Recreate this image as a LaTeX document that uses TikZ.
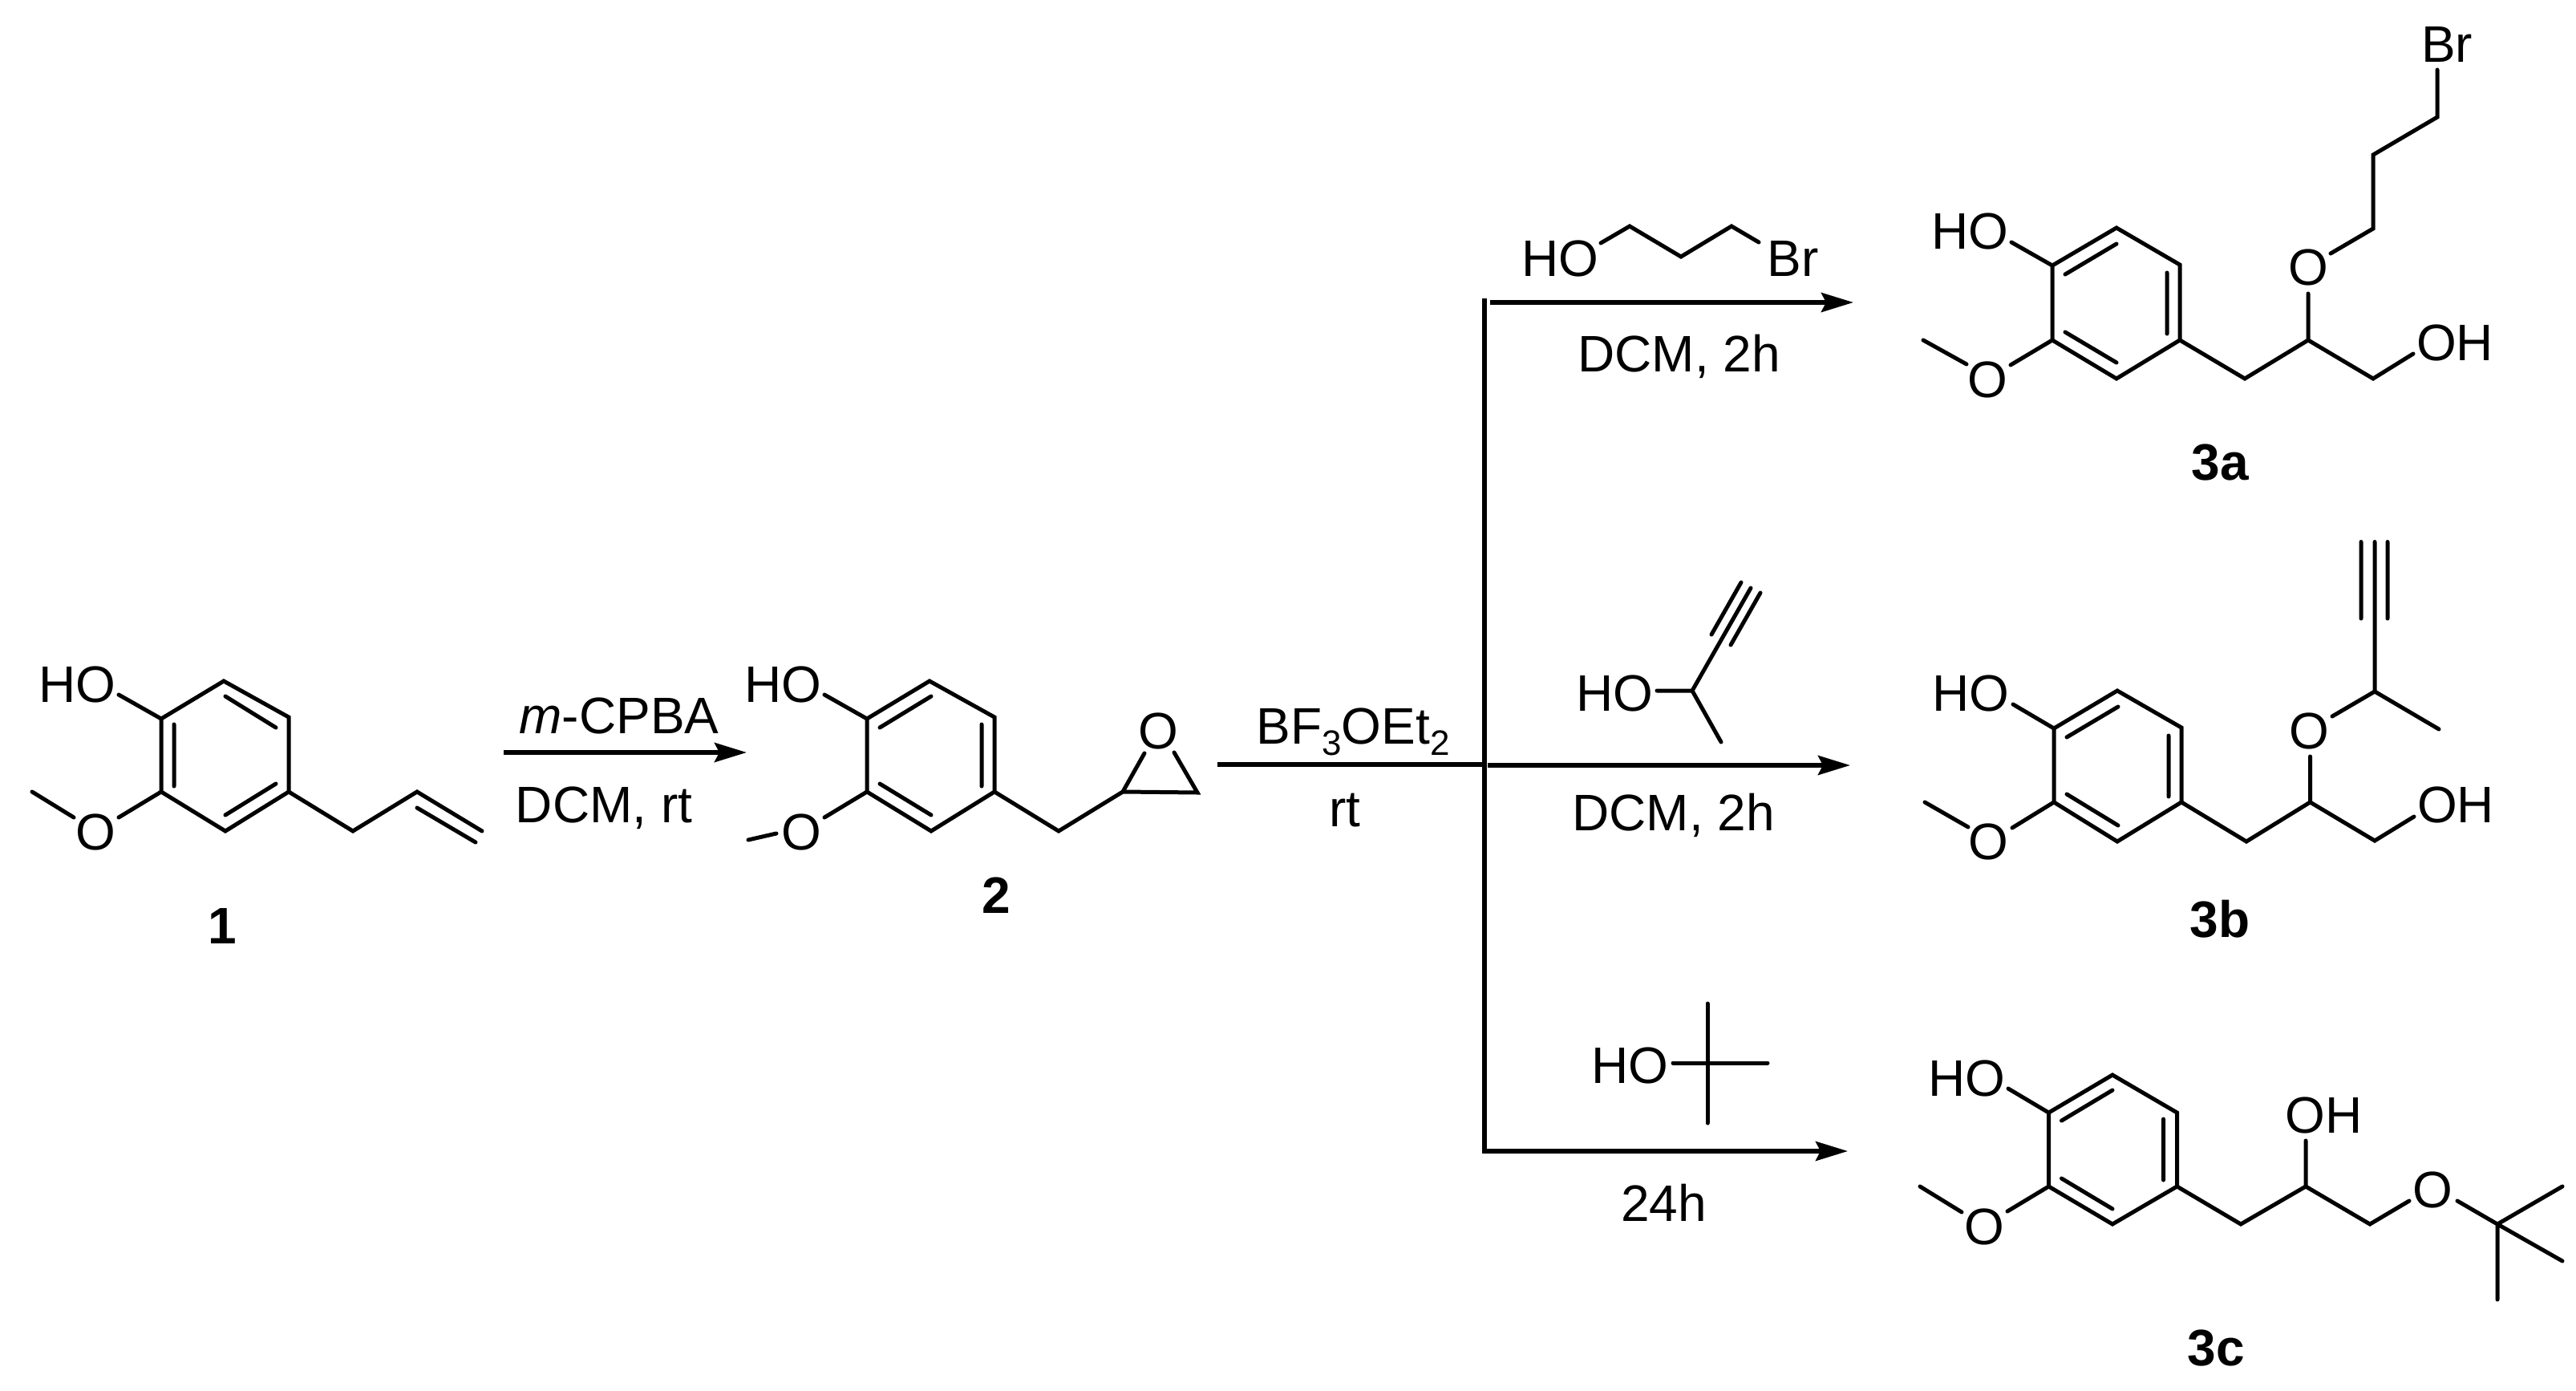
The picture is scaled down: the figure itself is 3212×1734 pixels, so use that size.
\documentclass[tikz,border=0pt]{standalone}
\usepackage{fontspec}
\setmainfont{Liberation Sans}
\usetikzlibrary{arrows.meta}
\tikzset{
  bond/.style={line width=5pt,line cap=round,line join=miter,black},
  rxn/.style={line width=5.6pt,line cap=butt,line join=miter,black},
  rxnarrow/.style={rxn,-{Stealth[length=40pt,width=24pt,inset=6pt]}},
  lab/.style={anchor=base,inner sep=0pt,outer sep=0pt,font=\fontsize{64}{70}\selectfont},
  cmpd/.style={anchor=base,inner sep=0pt,outer sep=0pt,font=\fontsize{64}{70}\selectfont\bfseries}
}
\newcommand{\subdigit}[1]{\raisebox{-14pt}{\fontsize{44}{44}\selectfont #1}}
\begin{document}
\begin{tikzpicture}[x=1pt,y=-1pt]
\path[use as bounding box,fill=white] (0,0) rectangle (3212,1734);

% ---------- compound 1
\path (201,896) coordinate (a1) (279,849) coordinate (a2) (360,894) coordinate (a3)
      (360,987) coordinate (a4) (281,1036) coordinate (a5) (201,987) coordinate (a6)
      (281,868) coordinate (a7) (344,907) coordinate (a8) (217,903) coordinate (a9)
      (217,980) coordinate (a10) (281,1016) coordinate (a11) (344,977) coordinate (a12)
      (148,866) coordinate (aOH) (148,1019) coordinate (aO) (92,1019) coordinate (aMe1)
      (40,987) coordinate (aMe2) (440,1036) coordinate (a13) (520,987) coordinate (a14)
      (601,1036) coordinate (a15) (520,1007) coordinate (a16) (593,1050) coordinate (a17);
\draw[bond] (a1)--(a2)--(a3)--(a4)--(a5)--(a6)--cycle;
\draw[bond] (a7)--(a8) (a9)--(a10) (a11)--(a12);
\draw[bond] (aOH)--(a1) (aO)--(a6) (aMe1)--(aMe2);
\draw[bond] (a4)--(a13)--(a14)--(a15) (a16)--(a17);
\node[lab] (n1HO) at (96,875) {HO};
\node[lab] (n1O) at (119,1059) {O};
\node[cmpd] (n1) at (277,1176) {1};

% ---------- arrow 1 -> 2
\coordinate (r1s) at (628,938);
\coordinate (r1e) at (931,938);
\draw[rxnarrow] (r1s)--(r1e);
\node[lab] (r1t) at (772,914) {\textit{m}-CPBA};
\node[lab] (r1b) at (753,1025) {DCM, rt};

% ---------- compound 2
\path (1081,896) coordinate (b1) (1159,849) coordinate (b2) (1240,894) coordinate (b3)
      (1240,987) coordinate (b4) (1161,1036) coordinate (b5) (1081,987) coordinate (b6)
      (1097,907) coordinate (b7) (1161,868) coordinate (b8) (1224,903) coordinate (b9)
      (1224,980) coordinate (b10) (1097,977) coordinate (b11) (1161,1016) coordinate (b12)
      (1028,866) coordinate (bOH) (1028,1019) coordinate (bO) (968,1039) coordinate (bMe1)
      (933,1047) coordinate (bMe2) (1320,1036) coordinate (b13) (1400,987) coordinate (b14)
      (1493,988) coordinate (b15) (1427,939) coordinate (bE1) (1464,938) coordinate (bE2);
\draw[bond] (b1)--(b2)--(b3)--(b4)--(b5)--(b6)--cycle;
\draw[bond] (b7)--(b8) (b9)--(b10) (b11)--(b12);
\draw[bond] (bOH)--(b1) (bO)--(b6) (bMe1)--(bMe2);
\draw[bond] (b4)--(b13)--(b14) (bE1)--(b14)--(b15)--(bE2);
\node[lab] (n2HO) at (976,875) {HO};
\node[lab] (n2O) at (999,1059) {O};
\node[lab] (n2E) at (1444,933) {O};
\node[cmpd] (n2) at (1242,1138) {2};

% ---------- branching reaction lines
\path (1518,953) coordinate (r2s) (1851,953) coordinate (r2j)
      (1851,372) coordinate (vt) (1851,1435) coordinate (vb) (2304,1435) coordinate (r5e)
      (1858,377) coordinate (r3s) (2311,377) coordinate (r3e)
      (1855,954) coordinate (r4s) (2307,954) coordinate (r4e);
\draw[rxn] (r2s)--(r2j);
\draw[rxnarrow] (vt)--(vb)--(r5e);
\draw[rxnarrow] (r3s)--(r3e);
\draw[rxnarrow] (r4s)--(r4e);
\node[lab] (r2t) at (1687,927) {BF\subdigit{3}OEt\subdigit{2}};
\node[lab] (r2b) at (1677,1030) {rt};

% ---------- reagent: 3-bromopropanol
\path (1996,303) coordinate (c1) (2032,282) coordinate (c2) (2096,320) coordinate (c3)
      (2159,282) coordinate (c4) (2193,302) coordinate (c5);
\draw[bond] (c1)--(c2)--(c3)--(c4)--(c5);
\node[lab] (c1HO) at (1945.5,344) {HO};
\node[lab] (c1Br) at (2235.5,344) {Br};
\node[lab] (c1b) at (2093.5,463) {DCM, 2h};

% ---------- reagent: butynol
\path (2066,861) coordinate (d1) (2110,861) coordinate (d2) (2183,733) coordinate (d3)
      (2146,925) coordinate (d4) (2134,791) coordinate (d5) (2171,726) coordinate (d6)
      (2158,804) coordinate (d7) (2195,739) coordinate (d8);
\draw[bond] (d1)--(d2)--(d3) (d2)--(d4) (d5)--(d6) (d7)--(d8);
\node[lab] (d1HO) at (2013,886) {HO};
\node[lab] (d1b) at (2086.5,1035) {DCM, 2h};

% ---------- reagent: tert-butanol
\path (2086,1325) coordinate (e1) (2204,1325) coordinate (e2)
      (2129,1251) coordinate (e3) (2129,1400) coordinate (e4);
\draw[bond] (e1)--(e2) (e3)--(e4);
\node[lab] (e1HO) at (2032,1350) {HO};
\node[lab] (e1b) at (2074.5,1522) {24h};

% ---------- compound 3a
\path (2559,331) coordinate (f1) (2639,284) coordinate (f2) (2718,330) coordinate (f3)
      (2718,424) coordinate (f4) (2639,472) coordinate (f5) (2559,424) coordinate (f6)
      (2575,342) coordinate (f7) (2639,304) coordinate (f8) (2702,340) coordinate (f9)
      (2702,416) coordinate (f10) (2575,414) coordinate (f11) (2639,452) coordinate (f12)
      (2508,302) coordinate (fOH) (2507,455) coordinate (fO) (2452,454) coordinate (fMe1)
      (2398,424) coordinate (fMe2) (2799,472) coordinate (f13) (2878,424) coordinate (f14)
      (2959,472) coordinate (f15) (3009,441) coordinate (f16) (2878,366) coordinate (f17)
      (2906,316) coordinate (f18) (2959,285) coordinate (f19) (2959,193) coordinate (f20)
      (3039,146) coordinate (f21) (3039,87) coordinate (f22);
\draw[bond] (f1)--(f2)--(f3)--(f4)--(f5)--(f6)--cycle;
\draw[bond] (f7)--(f8) (f9)--(f10) (f11)--(f12);
\draw[bond] (fOH)--(f1) (fO)--(f6) (fMe1)--(fMe2);
\draw[bond] (f4)--(f13)--(f14)--(f15)--(f16) (f14)--(f17);
\draw[bond] (f18)--(f19)--(f20)--(f21)--(f22);
\node[lab] (fnHO) at (2456,310) {HO};
\node[lab] (fnO) at (2478,495) {O};
\node[lab] (fnOH) at (3061,449) {OH};
\node[lab] (fnOc) at (2878,355) {O};
\node[lab] (fnBr) at (3051,77.5) {Br};
\node[cmpd] (n3a) at (2768,598) {3a};

% ---------- compound 3b
\path (2561,908) coordinate (g1) (2640,861) coordinate (g2) (2720,907) coordinate (g3)
      (2720,1000) coordinate (g4) (2640,1049) coordinate (g5) (2561,1000) coordinate (g6)
      (2577,919) coordinate (g7) (2641,881) coordinate (g8) (2704,917) coordinate (g9)
      (2704,993) coordinate (g10) (2577,990) coordinate (g11) (2641,1029) coordinate (g12)
      (2510,878) coordinate (gOH) (2509,1032) coordinate (gO) (2454,1031) coordinate (gMe1)
      (2400,1000) coordinate (gMe2) (2801,1049) coordinate (g13) (2880.5,1000) coordinate (g14)
      (2961,1048) coordinate (g15) (3010,1018) coordinate (g16) (2880.5,943) coordinate (g17)
      (2908,893) coordinate (g18) (2961,862) coordinate (g19) (3041,909) coordinate (g20)
      (2961,675.5) coordinate (g21) (2944,675.5) coordinate (g22) (2944,771) coordinate (g23)
      (2977,675.5) coordinate (g24) (2977,771) coordinate (g25);
\draw[bond] (g1)--(g2)--(g3)--(g4)--(g5)--(g6)--cycle;
\draw[bond] (g7)--(g8) (g9)--(g10) (g11)--(g12);
\draw[bond] (gOH)--(g1) (gO)--(g6) (gMe1)--(gMe2);
\draw[bond] (g4)--(g13)--(g14)--(g15)--(g16) (g14)--(g17);
\draw[bond] (g18)--(g19)--(g20) (g19)--(g21) (g22)--(g23) (g24)--(g25);
\node[lab] (gnHO) at (2457.5,886.5) {HO};
\node[lab] (gnO) at (2479,1071) {O};
\node[lab] (gnOH) at (3062,1025.5) {OH};
\node[lab] (gnOc) at (2879.5,933) {O};
\node[cmpd] (n3b) at (2768,1168) {3b};

% ---------- compound 3c
\path (2554.5,1387) coordinate (h1) (2634,1340) coordinate (h2) (2714.5,1387) coordinate (h3)
      (2714.5,1479) coordinate (h4) (2634,1526) coordinate (h5) (2554.5,1479) coordinate (h6)
      (2570.5,1397) coordinate (h7) (2634,1359) coordinate (h8) (2697.5,1395) coordinate (h9)
      (2697.5,1471) coordinate (h10) (2570.5,1469) coordinate (h11) (2634,1507) coordinate (h12)
      (2504,1357) coordinate (hOH) (2503,1510) coordinate (hO) (2446,1511) coordinate (hMe1)
      (2394,1479) coordinate (hMe2) (2794,1526) coordinate (h13) (2875,1479) coordinate (h14)
      (2955,1526) coordinate (h15) (3004,1497) coordinate (h16) (2875,1422) coordinate (h17)
      (3064,1497) coordinate (h18) (3114,1526) coordinate (h19) (3195,1479) coordinate (h20)
      (3195,1572) coordinate (h21) (3114,1620) coordinate (h22);
\draw[bond] (h1)--(h2)--(h3)--(h4)--(h5)--(h6)--cycle;
\draw[bond] (h7)--(h8) (h9)--(h10) (h11)--(h12);
\draw[bond] (hOH)--(h1) (hO)--(h6) (hMe1)--(hMe2);
\draw[bond] (h4)--(h13)--(h14)--(h15)--(h16) (h14)--(h17);
\draw[bond] (h18)--(h19)--(h20) (h19)--(h21) (h19)--(h22);
\node[lab] (hnHO) at (2452.5,1366) {HO};
\node[lab] (hnO) at (2474,1551) {O};
\node[lab] (hnOH) at (2897.5,1412) {OH};
\node[lab] (hnOc) at (3033,1505) {O};
\node[cmpd] (n3c) at (2763,1702) {3c};
\end{tikzpicture}
\end{document}
